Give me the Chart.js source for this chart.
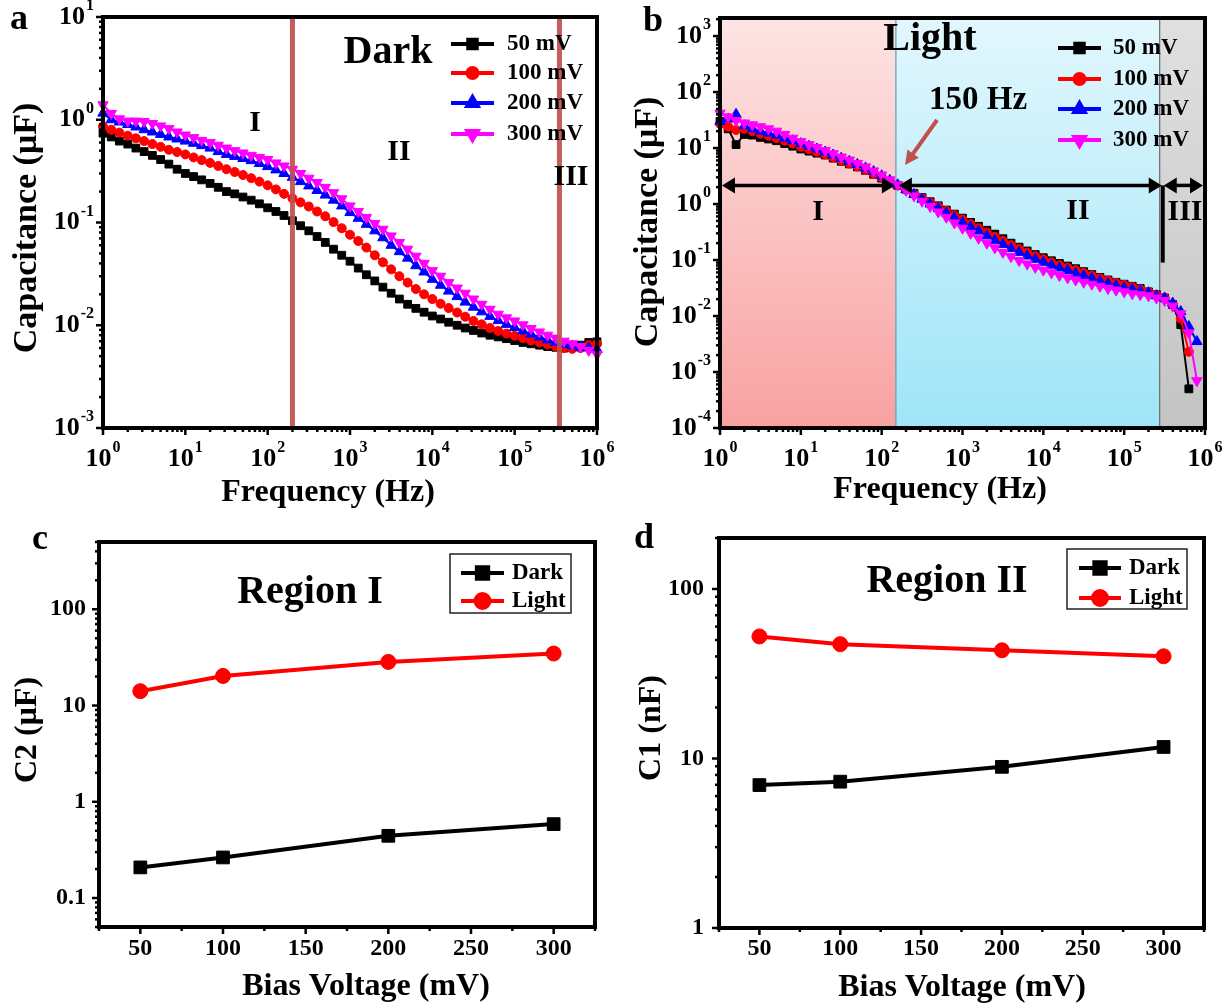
<!DOCTYPE html>
<html><head><meta charset="utf-8">
<script src="https://cdn.jsdelivr.net/npm/chart.js@4.4.1/dist/chart.umd.min.js"></script>
<style>
html,body{margin:0;padding:0;background:#fff;}
#wrap{position:relative;width:1230px;height:1008px;overflow:hidden;background:#fff;}
canvas{position:absolute;left:0;top:0;}
</style></head><body>
<div id="wrap">
<canvas id="ca" width="1230" height="1008"></canvas>
<canvas id="cb" width="1230" height="1008"></canvas>
<canvas id="cc" width="1230" height="1008"></canvas>
<canvas id="cd" width="1230" height="1008"></canvas>
</div>
<script>
// ---------------- DATA ----------------
const freqHz = [1,1.26,1.58,2,2.51,3.16,3.98,5.01,6.31,7.94,
 10,12.6,15.8,20,25.1,31.6,39.8,50.1,63.1,79.4,
 100,126,158,200,251,316,398,501,631,794,
 1000,1260,1580,2000,2510,3160,3980,5010,6310,7940,
 1e4,1.26e4,1.58e4,2e4,2.51e4,3.16e4,3.98e4,5.01e4,6.31e4,7.94e4,
 1e5,1.26e5,1.58e5,2e5,2.51e5,3.16e5,3.98e5,5.01e5,6.31e5,7.94e5,1e6];

// Panel a (dark), capacitance in uF
const darkCap50 = [0.74,0.68,0.62,0.58,0.53,0.49,0.45,0.41,0.37,0.33,
 0.30,0.28,0.26,0.24,0.22,0.20,0.19,0.177,0.165,0.152,
 0.139,0.128,0.117,0.104,0.093,0.083,0.073,0.064,0.055,0.048,
 0.042,0.036,0.031,0.027,0.0235,0.0205,0.018,0.016,0.0146,0.0134,
 0.0123,0.0115,0.0107,0.0100,0.0094,0.0089,0.0084,0.0080,0.0077,0.0074,
 0.0071,0.0068,0.0066,0.0064,0.0062,0.0061,0.0060,0.0061,0.0064,0.0068,0.0069];
const darkCap100 = [0.86,0.80,0.75,0.70,0.66,0.62,0.58,0.545,0.51,0.485,
 0.46,0.43,0.405,0.38,0.355,0.33,0.31,0.29,0.27,0.25,
 0.23,0.21,0.19,0.172,0.157,0.143,0.128,0.115,0.101,0.088,
 0.076,0.066,0.057,0.048,0.041,0.035,0.030,0.026,0.0225,0.020,
 0.018,0.0162,0.0147,0.0133,0.0121,0.011,0.0102,0.0094,0.0088,0.0083,
 0.0079,0.0075,0.0071,0.0068,0.0065,0.0062,0.0060,0.0059,0.0060,0.0064,0.0066];
const darkCap200 = [1.16,1.0,0.95,0.9,0.85,0.80,0.76,0.72,0.68,0.65,
 0.62,0.59,0.56,0.53,0.49,0.46,0.44,0.42,0.40,0.375,
 0.35,0.325,0.30,0.275,0.25,0.227,0.205,0.185,0.165,0.145,
 0.125,0.11,0.096,0.083,0.071,0.06,0.052,0.045,0.038,0.033,
 0.028,0.0245,0.0215,0.019,0.0168,0.015,0.0135,0.0122,0.0111,0.0102,
 0.0095,0.0088,0.0082,0.0077,0.0072,0.0068,0.0065,0.0063,0.0061,0.006,0.0058];
const darkCap300 = [1.4,1.15,1.02,0.97,0.97,0.96,0.92,0.87,0.82,0.76,
 0.71,0.67,0.63,0.60,0.565,0.53,0.50,0.475,0.45,0.43,
 0.41,0.38,0.355,0.33,0.30,0.27,0.245,0.22,0.195,0.17,
 0.145,0.128,0.112,0.098,0.086,0.074,0.064,0.055,0.047,0.040,
 0.034,0.030,0.026,0.023,0.0205,0.018,0.016,0.0143,0.0128,0.0118,
 0.011,0.0101,0.0093,0.0086,0.008,0.0075,0.007,0.0066,0.0062,0.0057,0.0052];

// Panel b (light), capacitance in uF
const lightCap50 = [30,22,11.5,17.5,17,15.5,14.5,13.5,12,10.8,
 9.6,8.8,8.1,7.5,6.6,5.8,5.2,4.6,4.0,3.4,
 2.9,2.5,2.15,1.85,1.55,1.3,1.1,0.93,0.78,0.66,
 0.56,0.47,0.40,0.34,0.29,0.24,0.20,0.17,0.145,0.125,
 0.11,0.097,0.087,0.078,0.07,0.062,0.055,0.049,0.044,0.040,
 0.037,0.034,0.031,0.027,0.024,0.021,0.016,0.007,0.0005,null,null];
const lightCap100 = [27,24,21,22,20,18,16.5,15,13.5,12,
 10.5,9.5,8.6,7.7,6.8,6.0,5.3,4.7,4.1,3.5,
 3.0,2.55,2.15,1.82,1.52,1.27,1.07,0.9,0.75,0.63,
 0.53,0.44,0.37,0.31,0.26,0.22,0.185,0.157,0.135,0.117,
 0.103,0.091,0.081,0.073,0.066,0.059,0.053,0.047,0.043,0.039,
 0.036,0.033,0.030,0.027,0.024,0.021,0.016,0.009,0.0023,null,null];
const lightCap200 = [30,33,40,25,22,20,18.5,17,15,13.5,
 12,10.8,9.6,8.5,7.5,6.6,5.8,5.1,4.4,3.8,
 3.2,2.65,2.2,1.8,1.48,1.22,1.0,0.83,0.69,0.57,
 0.47,0.39,0.33,0.27,0.225,0.19,0.16,0.137,0.118,0.103,
 0.091,0.081,0.072,0.065,0.058,0.052,0.047,0.042,0.038,0.035,
 0.032,0.030,0.028,0.026,0.023,0.021,0.017,0.012,0.0065,0.0035,null];
const lightCap300 = [42,36,31,28,26,24,22,20,17.5,15,
 13,11.5,10.2,9.0,7.9,6.9,6.1,5.3,4.6,3.9,
 3.3,2.7,2.2,1.75,1.4,1.12,0.9,0.72,0.58,0.46,
 0.37,0.30,0.245,0.2,0.165,0.137,0.115,0.098,0.085,0.074,
 0.066,0.059,0.053,0.048,0.044,0.04,0.037,0.034,0.031,0.029,
 0.027,0.025,0.024,0.023,0.021,0.019,0.015,0.011,0.005,0.0007,null];

// Panels c, d
const biasMV = [50,100,200,300];
const c2Dark = [0.208,0.264,0.443,0.586];
const c2Light = [14.1,20.3,28.4,34.7];
const c1Dark = [6.97,7.3,8.93,11.7];
const c1Light = [52.5,47.3,43.5,40.1];

// Ticks / labels
const freqTicks = [1,10,100,1000,1e4,1e5,1e6];
const freqTickExp = ['0','1','2','3','4','5','6'];
const capTicksA = [1e-3,1e-2,1e-1,1,10];
const capTickExpA = ['-3','-2','-1','0','1'];
const capTicksB = [1e-4,1e-3,1e-2,1e-1,1,10,100,1000];
const capTickExpB = ['-4','-3','-2','-1','0','1','2','3'];
const voltTicks = [50,100,150,200,250,300];
const voltMinor = [25,75,125,175,225,275,325];
const c2Ticks = [0.1,1,10,100];
const c2TickLabels = ['0.1','1','10','100'];
const c1Ticks = [1,10,100];
const c1TickLabels = ['1','10','100'];
const seriesNames = ['50 mV','100 mV','200 mV','300 mV'];
const regionLinesA = [200, 3.5e5];
const regionEdgesB = [150, 2.75e5];

// ---------------- HELPERS ----------------
const F = '"Liberation Serif","Times New Roman",serif';
const COLORS = ['#000000','#ff0000','#0000ff','#ff00ff'];
const STYLES = [['rect',0],['circle',0],['triangle',0],['triangle',180]];
const RADII = [5.5, 4.5, 6, 6];

function text(ctx, s, x, y, size, align, rot) {
  ctx.save();
  ctx.font = 'bold ' + size + 'px ' + F;
  ctx.fillStyle = '#000';
  ctx.textAlign = align || 'center';
  ctx.textBaseline = 'middle';
  ctx.translate(x, y);
  if (rot) ctx.rotate(rot);
  ctx.fillText(s, 0, 0);
  ctx.restore();
}
function powLabel(ctx, exp, x, y, size, align) {
  ctx.save();
  ctx.fillStyle = '#000';
  ctx.font = 'bold ' + size + 'px ' + F;
  const w1 = ctx.measureText('10').width;
  const es = Math.round(size * 0.62);
  ctx.font = 'bold ' + es + 'px ' + F;
  const w2 = ctx.measureText(exp).width;
  const tot = w1 + w2 + 1;
  const sx = align === 'right' ? x - tot : x - tot / 2;
  ctx.textAlign = 'left'; ctx.textBaseline = 'middle';
  ctx.font = 'bold ' + size + 'px ' + F;
  ctx.fillText('10', sx, y);
  ctx.font = 'bold ' + es + 'px ' + F;
  ctx.fillText(exp, sx + w1 + 1, y - size * 0.42);
  ctx.restore();
}
function seg(ctx, x1, y1, x2, y2) { ctx.beginPath(); ctx.moveTo(x1, y1); ctx.lineTo(x2, y2); ctx.stroke(); }
function logMinor(min, max) {
  const out = [];
  for (let e = Math.floor(Math.log10(min)) ; e <= Math.ceil(Math.log10(max)); e++) {
    for (let k = 2; k <= 9; k++) { const v = k * Math.pow(10, e); if (v >= min * 0.999 && v <= max * 1.001) out.push(v); }
  }
  return out;
}
function drawFrame(chart, cfg) {
  const ctx = chart.ctx, a = chart.chartArea, x = chart.scales.x, y = chart.scales.y;
  ctx.save();
  ctx.strokeStyle = '#000'; ctx.lineCap = 'butt';
  ctx.lineWidth = 2.5;
  cfg.xMajor.forEach(v => { const p = x.getPixelForValue(v); seg(ctx, p, a.bottom, p, a.bottom + 7); });
  cfg.xMinor.forEach(v => { const p = x.getPixelForValue(v); seg(ctx, p, a.bottom, p, a.bottom + 4); });
  cfg.yMajor.forEach(v => { const p = y.getPixelForValue(v); seg(ctx, a.left - 7, p, a.left, p); });
  cfg.yMinor.forEach(v => { const p = y.getPixelForValue(v); seg(ctx, a.left - 4, p, a.left, p); });
  ctx.lineWidth = 4;
  ctx.strokeRect(a.left, a.top, a.right - a.left, a.bottom - a.top);
  ctx.restore();
  cfg.xMajor.forEach((v, i) => {
    const p = x.getPixelForValue(v);
    if (cfg.xPow) powLabel(ctx, cfg.xLabels[i], p, cfg.xLabelY, cfg.tickSize, 'center');
    else text(ctx, cfg.xLabels[i], p, cfg.xLabelY, cfg.tickSize, 'center');
  });
  cfg.yMajor.forEach((v, i) => {
    const p = y.getPixelForValue(v);
    if (cfg.yPow) powLabel(ctx, cfg.yLabels[i], a.left - cfg.yGap, p, cfg.tickSize, 'right');
    else text(ctx, cfg.yLabels[i], a.left - cfg.yGap, p, cfg.tickSize, 'right');
  });
}
function legendItem(ctx, x1, x2, y, color, style, rot, radius, lw, label, tx, size) {
  ctx.save();
  ctx.strokeStyle = color; ctx.fillStyle = color; ctx.lineWidth = lw;
  seg(ctx, x1, y, x2, y);
  Chart.helpers.drawPoint(ctx, {pointStyle: style, rotation: rot, radius: radius, borderWidth: 1}, (x1 + x2) / 2, y);
  ctx.restore();
  text(ctx, label, tx, y, size, 'left');
}
function mkData(xs, ys) { return xs.map((v, i) => ({x: v, y: ys[i]})); }
function ds(label, xs, ys, color, style, rot, radius, lw, order) {
  return {label, data: mkData(xs, ys), borderColor: color, backgroundColor: color,
    pointBackgroundColor: color, pointBorderColor: color, pointStyle: style, pointRotation: rot,
    pointRadius: radius, pointBorderWidth: 1, borderWidth: lw, tension: 0, clip: 8, order, spanGaps: false};
}
function baseOpts(L, T, R, B, xs, ys) {
  return {responsive: false, animation: false, events: [],
    layout: {padding: {left: L, top: T, right: 1230 - R, bottom: 1008 - B}},
    plugins: {legend: {display: false}, tooltip: {enabled: false}},
    scales: {x: Object.assign({display: false}, xs), y: Object.assign({display: false}, ys)}};
}
function arrowHead(ctx, x, y, dir) {
  ctx.beginPath(); ctx.moveTo(x, y); ctx.lineTo(x - dir * 13, y - 8); ctx.lineTo(x - dir * 13, y + 8); ctx.closePath(); ctx.fill();
}
function dblArrow(ctx, x1, x2, y) {
  ctx.save(); ctx.strokeStyle = '#000'; ctx.fillStyle = '#000'; ctx.lineWidth = 3.5;
  seg(ctx, x1 + 8, y, x2 - 8, y); arrowHead(ctx, x1, y, -1); arrowHead(ctx, x2, y, 1); ctx.restore();
}
function freqSets(arrs) {
  return arrs.map((arr, i) => ds(seriesNames[i], freqHz, arr, COLORS[i], STYLES[i][0], STYLES[i][1], RADII[i], 2, 4 - i));
}

// ---------------- PANEL A ----------------
new Chart(document.getElementById('ca'), {
  type: 'line',
  data: {datasets: freqSets([darkCap50, darkCap100, darkCap200, darkCap300])},
  options: baseOpts(103, 17, 597, 428, {type: 'logarithmic', min: 1, max: 1e6}, {type: 'logarithmic', min: 1e-3, max: 10}),
  plugins: [{id: 'decA',
    afterDraw(chart) {
      const ctx = chart.ctx, a = chart.chartArea, x = chart.scales.x;
      ctx.save(); ctx.strokeStyle = 'rgba(192,80,77,0.92)'; ctx.lineWidth = 5;
      regionLinesA.forEach(v => { const p = x.getPixelForValue(v); seg(ctx, p, a.top + 2, p, a.bottom - 2); });
      ctx.restore();
      drawFrame(chart, {xMajor: freqTicks, xMinor: logMinor(1, 1e6), yMajor: capTicksA, yMinor: logMinor(1e-3, 10),
        xPow: true, yPow: true, xLabels: freqTickExp, yLabels: capTickExpA, xLabelY: 459, yGap: 9, tickSize: 26});
      text(ctx, 'Capacitance (\u03bcF)', 27, 228, 34, 'center', -Math.PI / 2);
      text(ctx, 'Frequency (Hz)', 328, 493, 32, 'center');
      text(ctx, 'a', 19, 20, 36, 'center');
      text(ctx, 'Dark', 388, 53, 40, 'center');
      text(ctx, 'I', 255, 123, 30, 'center');
      text(ctx, 'II', 399, 152, 30, 'center');
      text(ctx, 'III', 571, 177, 30, 'center');
      const ly = [44, 73, 103, 134];
      seriesNames.forEach((n, i) => legendItem(ctx, 451, 494, ly[i], COLORS[i], STYLES[i][0], STYLES[i][1], i === 1 ? 5 : 6, 4, n, 507, 23));
    }}]
});

// ---------------- PANEL B ----------------
new Chart(document.getElementById('cb'), {
  type: 'line',
  data: {datasets: freqSets([lightCap50, lightCap100, lightCap200, lightCap300])},
  options: baseOpts(720, 18, 1205, 428, {type: 'logarithmic', min: 1, max: 1e6}, {type: 'logarithmic', min: 1e-4, max: 2100}),
  plugins: [{id: 'decB',
    beforeDatasetsDraw(chart) {
      const ctx = chart.ctx, a = chart.chartArea, x = chart.scales.x;
      const e1 = x.getPixelForValue(regionEdgesB[0]), e2 = x.getPixelForValue(regionEdgesB[1]);
      ctx.save();
      let g = ctx.createLinearGradient(0, a.top, 0, a.bottom);
      g.addColorStop(0, '#fde4e4'); g.addColorStop(1, '#f9a1a1');
      ctx.fillStyle = g; ctx.fillRect(a.left, a.top, e1 - a.left, a.bottom - a.top);
      g = ctx.createLinearGradient(0, a.top, 0, a.bottom);
      g.addColorStop(0, '#e2f7fd'); g.addColorStop(1, '#9fe5f8');
      ctx.fillStyle = g; ctx.fillRect(e1, a.top, e2 - e1, a.bottom - a.top);
      g = ctx.createLinearGradient(0, a.top, 0, a.bottom);
      g.addColorStop(0, '#e0e0e0'); g.addColorStop(1, '#c4c4c4');
      ctx.fillStyle = g; ctx.fillRect(e2, a.top, a.right - e2, a.bottom - a.top);
      ctx.lineWidth = 1.2; ctx.strokeStyle = '#5a9fbf'; seg(ctx, e1, a.top, e1, a.bottom);
      ctx.strokeStyle = '#6a6a6a'; seg(ctx, e2, a.top, e2, a.bottom);
      ctx.restore();
    },
    afterDraw(chart) {
      const ctx = chart.ctx, a = chart.chartArea, x = chart.scales.x, y = chart.scales.y;
      const ay = y.getPixelForValue(2.15);
      const e1 = x.getPixelForValue(regionEdgesB[0]), e2 = x.getPixelForValue(3e5);
      dblArrow(ctx, a.left + 2, e1 - 1, ay);
      dblArrow(ctx, e1 + 3, e2 - 1, ay);
      dblArrow(ctx, e2 + 1, a.right - 2, ay);
      ctx.save(); ctx.strokeStyle = '#000'; ctx.lineWidth = 4;
      seg(ctx, e2, ay, e2, y.getPixelForValue(0.09));
      // 150 Hz pointer
      ctx.strokeStyle = '#c0504d'; ctx.fillStyle = '#c0504d'; ctx.lineWidth = 4;
      const x1 = 937, y1 = 120, x2 = 905, y2 = 165;
      const ang = Math.atan2(y2 - y1, x2 - x1);
      seg(ctx, x1, y1, x2 - 10 * Math.cos(ang), y2 - 10 * Math.sin(ang));
      ctx.beginPath(); ctx.moveTo(x2, y2);
      ctx.lineTo(x2 - 14 * Math.cos(ang) + 7 * Math.sin(ang), y2 - 14 * Math.sin(ang) - 7 * Math.cos(ang));
      ctx.lineTo(x2 - 14 * Math.cos(ang) - 7 * Math.sin(ang), y2 - 14 * Math.sin(ang) + 7 * Math.cos(ang));
      ctx.closePath(); ctx.fill();
      ctx.restore();
      drawFrame(chart, {xMajor: freqTicks, xMinor: logMinor(1, 1e6), yMajor: capTicksB, yMinor: logMinor(1e-4, 2100),
        xPow: true, yPow: true, xLabels: freqTickExp, yLabels: capTickExpB, xLabelY: 459, yGap: 9, tickSize: 26});
      text(ctx, 'Capacitance (\u03bcF)', 648, 222, 34, 'center', -Math.PI / 2);
      text(ctx, 'Frequency (Hz)', 940, 490, 32, 'center');
      text(ctx, 'b', 653, 22, 36, 'center');
      text(ctx, 'Light', 930, 40, 40, 'center');
      text(ctx, '150 Hz', 978, 100, 33, 'center');
      text(ctx, 'I', 818, 212, 30, 'center');
      text(ctx, 'II', 1078, 211, 30, 'center');
      text(ctx, 'III', 1185, 212, 30, 'center');
      const ly = [48, 79, 109, 140];
      seriesNames.forEach((n, i) => legendItem(ctx, 1058, 1101, ly[i], COLORS[i], STYLES[i][0], STYLES[i][1], i === 1 ? 5 : 6, 4, n, 1113, 23));
    }}]
});

// ---------------- PANEL C ----------------
new Chart(document.getElementById('cc'), {
  type: 'line',
  data: {datasets: [
    ds('Dark', biasMV, c2Dark, '#000000', 'rect', 0, 9, 4, 2),
    ds('Light', biasMV, c2Light, '#ff0000', 'circle', 0, 7.5, 4, 1)
  ]},
  options: baseOpts(99, 542, 595, 927, {type: 'linear', min: 25, max: 325}, {type: 'logarithmic', min: 0.05, max: 500}),
  plugins: [{id: 'decC',
    afterDraw(chart) {
      const ctx = chart.ctx;
      drawFrame(chart, {xMajor: voltTicks, xMinor: voltMinor, yMajor: c2Ticks, yMinor: logMinor(0.05, 500),
        xPow: false, yPow: false, xLabels: voltTicks.map(String), yLabels: c2TickLabels, xLabelY: 949, yGap: 13, tickSize: 24});
      text(ctx, 'C2 (\u03bcF)', 28, 730, 32, 'center', -Math.PI / 2);
      text(ctx, 'Bias Voltage (mV)', 366, 987, 32, 'center');
      text(ctx, 'c', 40, 540, 36, 'center');
      text(ctx, 'Region I', 310, 593, 40, 'center');
      ctx.save(); ctx.strokeStyle = '#222'; ctx.lineWidth = 1.5; ctx.strokeRect(450, 554, 121, 59); ctx.restore();
      legendItem(ctx, 461, 504, 573, '#000', 'rect', 0, 8, 4, 'Dark', 512, 23);
      legendItem(ctx, 461, 504, 601, '#ff0000', 'circle', 0, 7, 4, 'Light', 512, 23);
    }}]
});

// ---------------- PANEL D ----------------
new Chart(document.getElementById('cd'), {
  type: 'line',
  data: {datasets: [
    ds('Dark', biasMV, c1Dark, '#000000', 'rect', 0, 9, 4, 2),
    ds('Light', biasMV, c1Light, '#ff0000', 'circle', 0, 7.5, 4, 1)
  ]},
  options: baseOpts(719, 538, 1204, 928, {type: 'linear', min: 25, max: 325}, {type: 'logarithmic', min: 1, max: 200}),
  plugins: [{id: 'decD',
    afterDraw(chart) {
      const ctx = chart.ctx;
      drawFrame(chart, {xMajor: voltTicks, xMinor: voltMinor, yMajor: c1Ticks, yMinor: logMinor(1, 200),
        xPow: false, yPow: false, xLabels: voltTicks.map(String), yLabels: c1TickLabels, xLabelY: 949, yGap: 15, tickSize: 24});
      text(ctx, 'C1 (nF)', 652, 728, 32, 'center', -Math.PI / 2);
      text(ctx, 'Bias Voltage (mV)', 962, 988, 32, 'center');
      text(ctx, 'd', 644, 539, 36, 'center');
      text(ctx, 'Region II', 947, 582, 40, 'center');
      ctx.save(); ctx.strokeStyle = '#222'; ctx.lineWidth = 1.5; ctx.strokeRect(1067, 549, 120, 60); ctx.restore();
      legendItem(ctx, 1079, 1121, 568, '#000', 'rect', 0, 8, 4, 'Dark', 1129, 23);
      legendItem(ctx, 1079, 1121, 598, '#ff0000', 'circle', 0, 7, 4, 'Light', 1129, 23);
    }}]
});
</script></body></html>
